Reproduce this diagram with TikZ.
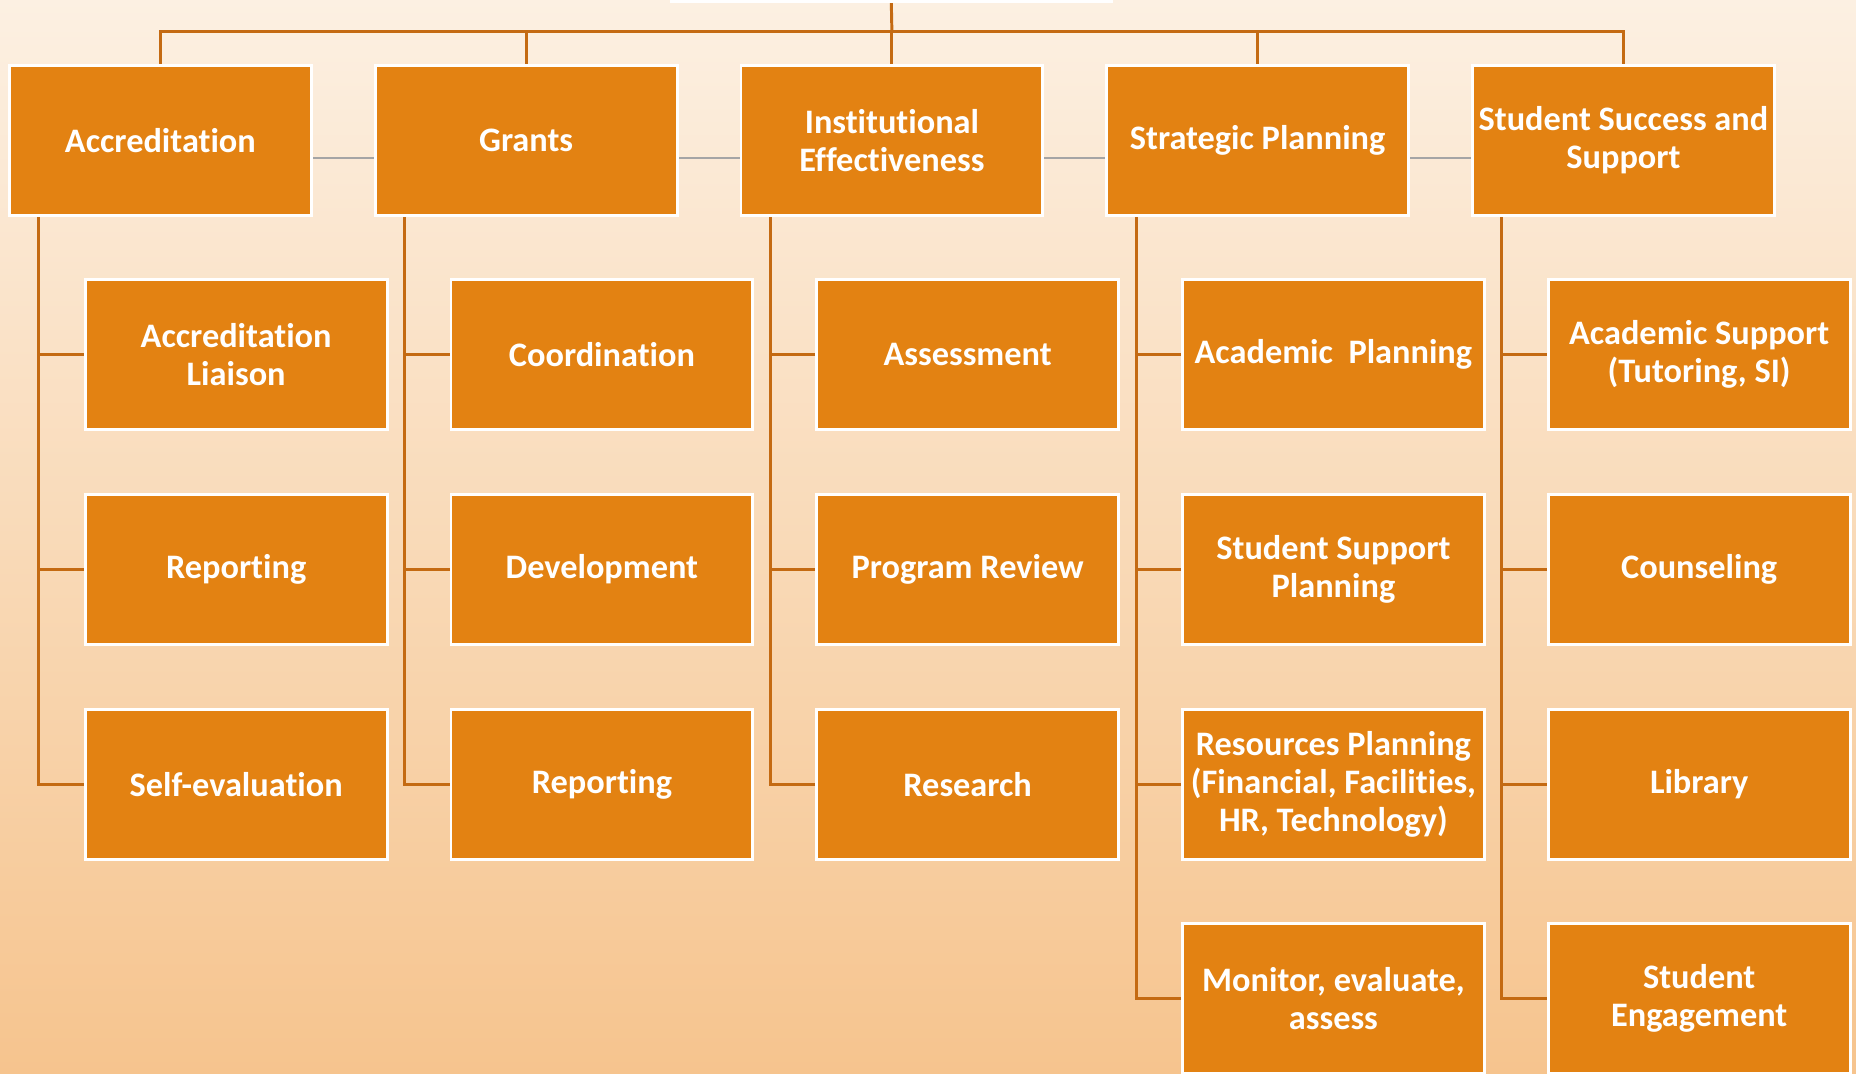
\documentclass[tikz,border=0pt]{standalone}
\usepackage{fontspec}
\setmainfont{Carlito}[Ligatures=NoCommon]
\usetikzlibrary{backgrounds}
\definecolor{boxor}{RGB}{227,130,18}
\definecolor{lineor}{RGB}{196,106,18}
\definecolor{bgtop}{RGB}{252,240,226}
\definecolor{bgbot}{RGB}{246,196,142}
\definecolor{linkgray}{RGB}{165,165,165}
\begin{document}
\begin{tikzpicture}[x=1pt,y=-1pt,
  box/.style={draw=white, line width=2.5pt, fill=boxor, minimum width=255pt,
    minimum height=127pt, inner sep=0pt, text=white, align=center,
    font=\fontsize{29}{32}\selectfont\bfseries},
  rootbox/.style={draw=white, fill=white, minimum width=374pt, minimum height=127pt, inner sep=0pt},
  conn/.style={draw=lineor, line width=2.5pt},
  link/.style={draw=linkgray, line width=1.5pt}]
\useasboundingbox (0,0) rectangle (1568,907);
% root (cut off at top)
\node[rootbox] (root) at (753,-61.5) {};
% top level
\node[box] (t1) at (135.5,118.5) {Accreditation};
\node[box] (t2) at (444.5,118.5) {Grants};
\node[box] (t3) at (753.5,118.5) {Institutional\\Effectiveness};
\node[box] (t4) at (1062.5,118.5) {Strategic Planning};
\node[box] (t5) at (1371.5,118.5) {Student Success and\\Support};
% column 1
\node[box] (c11) at (199.5,299.5) {Accreditation\\Liaison};
\node[box] (c12) at (199.5,481) {Reporting};
\node[box] (c13) at (199.5,662.5) {Self-evaluation};
% column 2
\node[box] (c21) at (508.5,299.5) {Coordination};
\node[box] (c22) at (508.5,481) {Development};
\node[box] (c23) at (508.5,662.5) {Reporting};
% column 3
\node[box] (c31) at (817.5,299.5) {Assessment};
\node[box] (c32) at (817.5,481) {Program Review};
\node[box] (c33) at (817.5,662.5) {Research};
% column 4
\node[box] (c41) at (1126.5,299.5) {Academic\ \ Planning};
\node[box] (c42) at (1126.5,481) {Student Support\\Planning};
\node[box] (c43) at (1126.5,662.5) {Resources Planning\\(Financial, Facilities,\\HR, Technology)};
\node[box] (c44) at (1126.5,843.5) {Monitor, evaluate,\\assess};
% column 5
\node[box] (c51) at (1435.5,299.5) {Academic Support\\(Tutoring, SI)};
\node[box] (c52) at (1435.5,481) {Counseling};
\node[box] (c53) at (1435.5,662.5) {Library};
\node[box] (c54) at (1435.5,843.5) {Student\\Engagement};
\coordinate (bus) at (753.5,27);
\begin{scope}[on background layer]
  \shade[top color=bgtop, bottom color=bgbot] (0,0) rectangle (1568,907);
  \draw[conn] (root.south) -- (bus);
  \foreach \t in {t1,t2,t3,t4,t5} \draw[conn] (bus) -| (\t.north);
  \foreach \t/\c in {t1/c11,t1/c12,t1/c13,t2/c21,t2/c22,t2/c23,t3/c31,t3/c32,t3/c33,
                     t4/c41,t4/c42,t4/c43,t4/c44,t5/c51,t5/c52,t5/c53,t5/c54}
    \draw[conn] ([xshift=26pt]\t.south west) |- (\c.west);
  \foreach \a/\b in {t1/t2,t2/t3,t3/t4,t4/t5}
    \draw[link] ([yshift=-15pt]\a.east) -- ([yshift=-15pt]\b.west);
\end{scope}
\end{tikzpicture}
\end{document}
